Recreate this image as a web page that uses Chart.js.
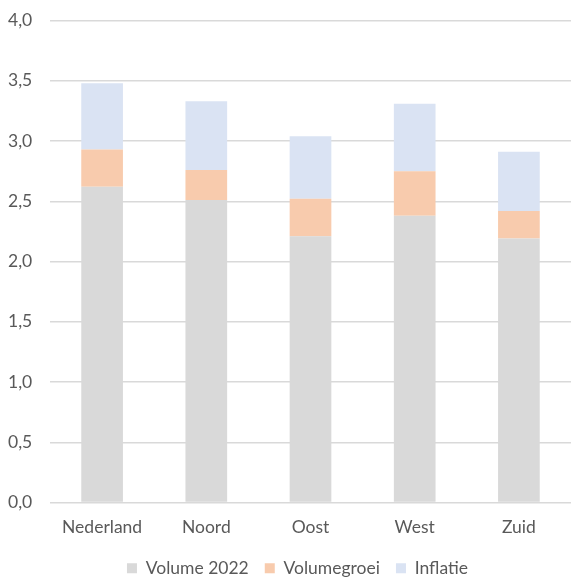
<!DOCTYPE html>
<html>
<head>
<meta charset="utf-8">
<script src="https://cdn.jsdelivr.net/npm/chart.js@4/dist/chart.umd.min.js"></script>
<style>
  html, body { margin: 0; padding: 0; background: #ffffff; }
  #wrap { width: 572px; height: 577px; }
</style>
</head>
<body>
<div id="wrap"><canvas id="c" width="572" height="577"></canvas></div>
<script>
// Regions and the three stacked components (values in billions)
const regions = ['Nederland', 'Noord', 'Oost', 'West', 'Zuid'];
const volume2022 = [2.62, 2.51, 2.21, 2.38, 2.19];
const volumegroei = [0.31, 0.25, 0.31, 0.37, 0.23];
const inflatie = [0.55, 0.57, 0.52, 0.56, 0.49];
const yTicks = [0, 0.5, 1, 1.5, 2, 2.5, 3, 3.5, 4];

const textColor = '#595959';
const gridColor = '#D9D9D9';
const fontFamily = 'Lato, "Open Sans", sans-serif';
const fontSize = 17.5;

const ds = (label, data, color) => ({
  label, data,
  backgroundColor: color,
  borderWidth: 0,
  barPercentage: 0.4,
  categoryPercentage: 1.0,
  stack: 'totaal'
});

// Nudge the legend a little to the right of the canvas centre
const legendOffset = {
  id: 'legendOffset',
  afterLayout(chart) {
    if (chart.legend) {
      chart.legend.left += 8;
      chart.legend.right += 8;
    }
  }
};

new Chart(document.getElementById('c'), {
  type: 'bar',
  data: {
    labels: regions,
    datasets: [
      ds('Volume 2022', volume2022, '#D9D9D9'),
      ds('Volumegroei', volumegroei, '#F8CBAD'),
      ds('Inflatie', inflatie, '#DAE3F3')
    ]
  },
  plugins: [legendOffset],
  options: {
    responsive: false,
    animation: false,
    devicePixelRatio: 1,
    layout: { padding: { left: 8, right: 1, top: 0, bottom: -10 } },
    plugins: {
      tooltip: { enabled: false },
      legend: {
        position: 'bottom',
        labels: {
          color: textColor,
          font: { family: fontFamily, size: fontSize },
          boxWidth: 10,
          boxHeight: 10,
          padding: 16
        }
      }
    },
    scales: {
      x: {
        stacked: true,
        grid: { display: false },
        border: { display: false },
        afterFit: (scale) => { scale.height = 41; },
        ticks: { color: textColor, font: { family: fontFamily, size: fontSize }, padding: 6 }
      },
      y: {
        stacked: true,
        min: 0,
        max: 4,
        afterBuildTicks: (scale) => { scale.ticks = yTicks.map(v => ({ value: v })); },
        afterFit: (scale) => { scale.width = 42; },
        grid: { color: gridColor, lineWidth: 1.5, drawTicks: false },
        border: { display: false },
        ticks: {
          color: textColor,
          font: { family: fontFamily, size: fontSize },
          padding: 10,
          crossAlign: 'far',
          callback: (v) => Number(v).toFixed(1).replace('.', ',')
        }
      }
    }
  }
});
</script>
</body>
</html>
